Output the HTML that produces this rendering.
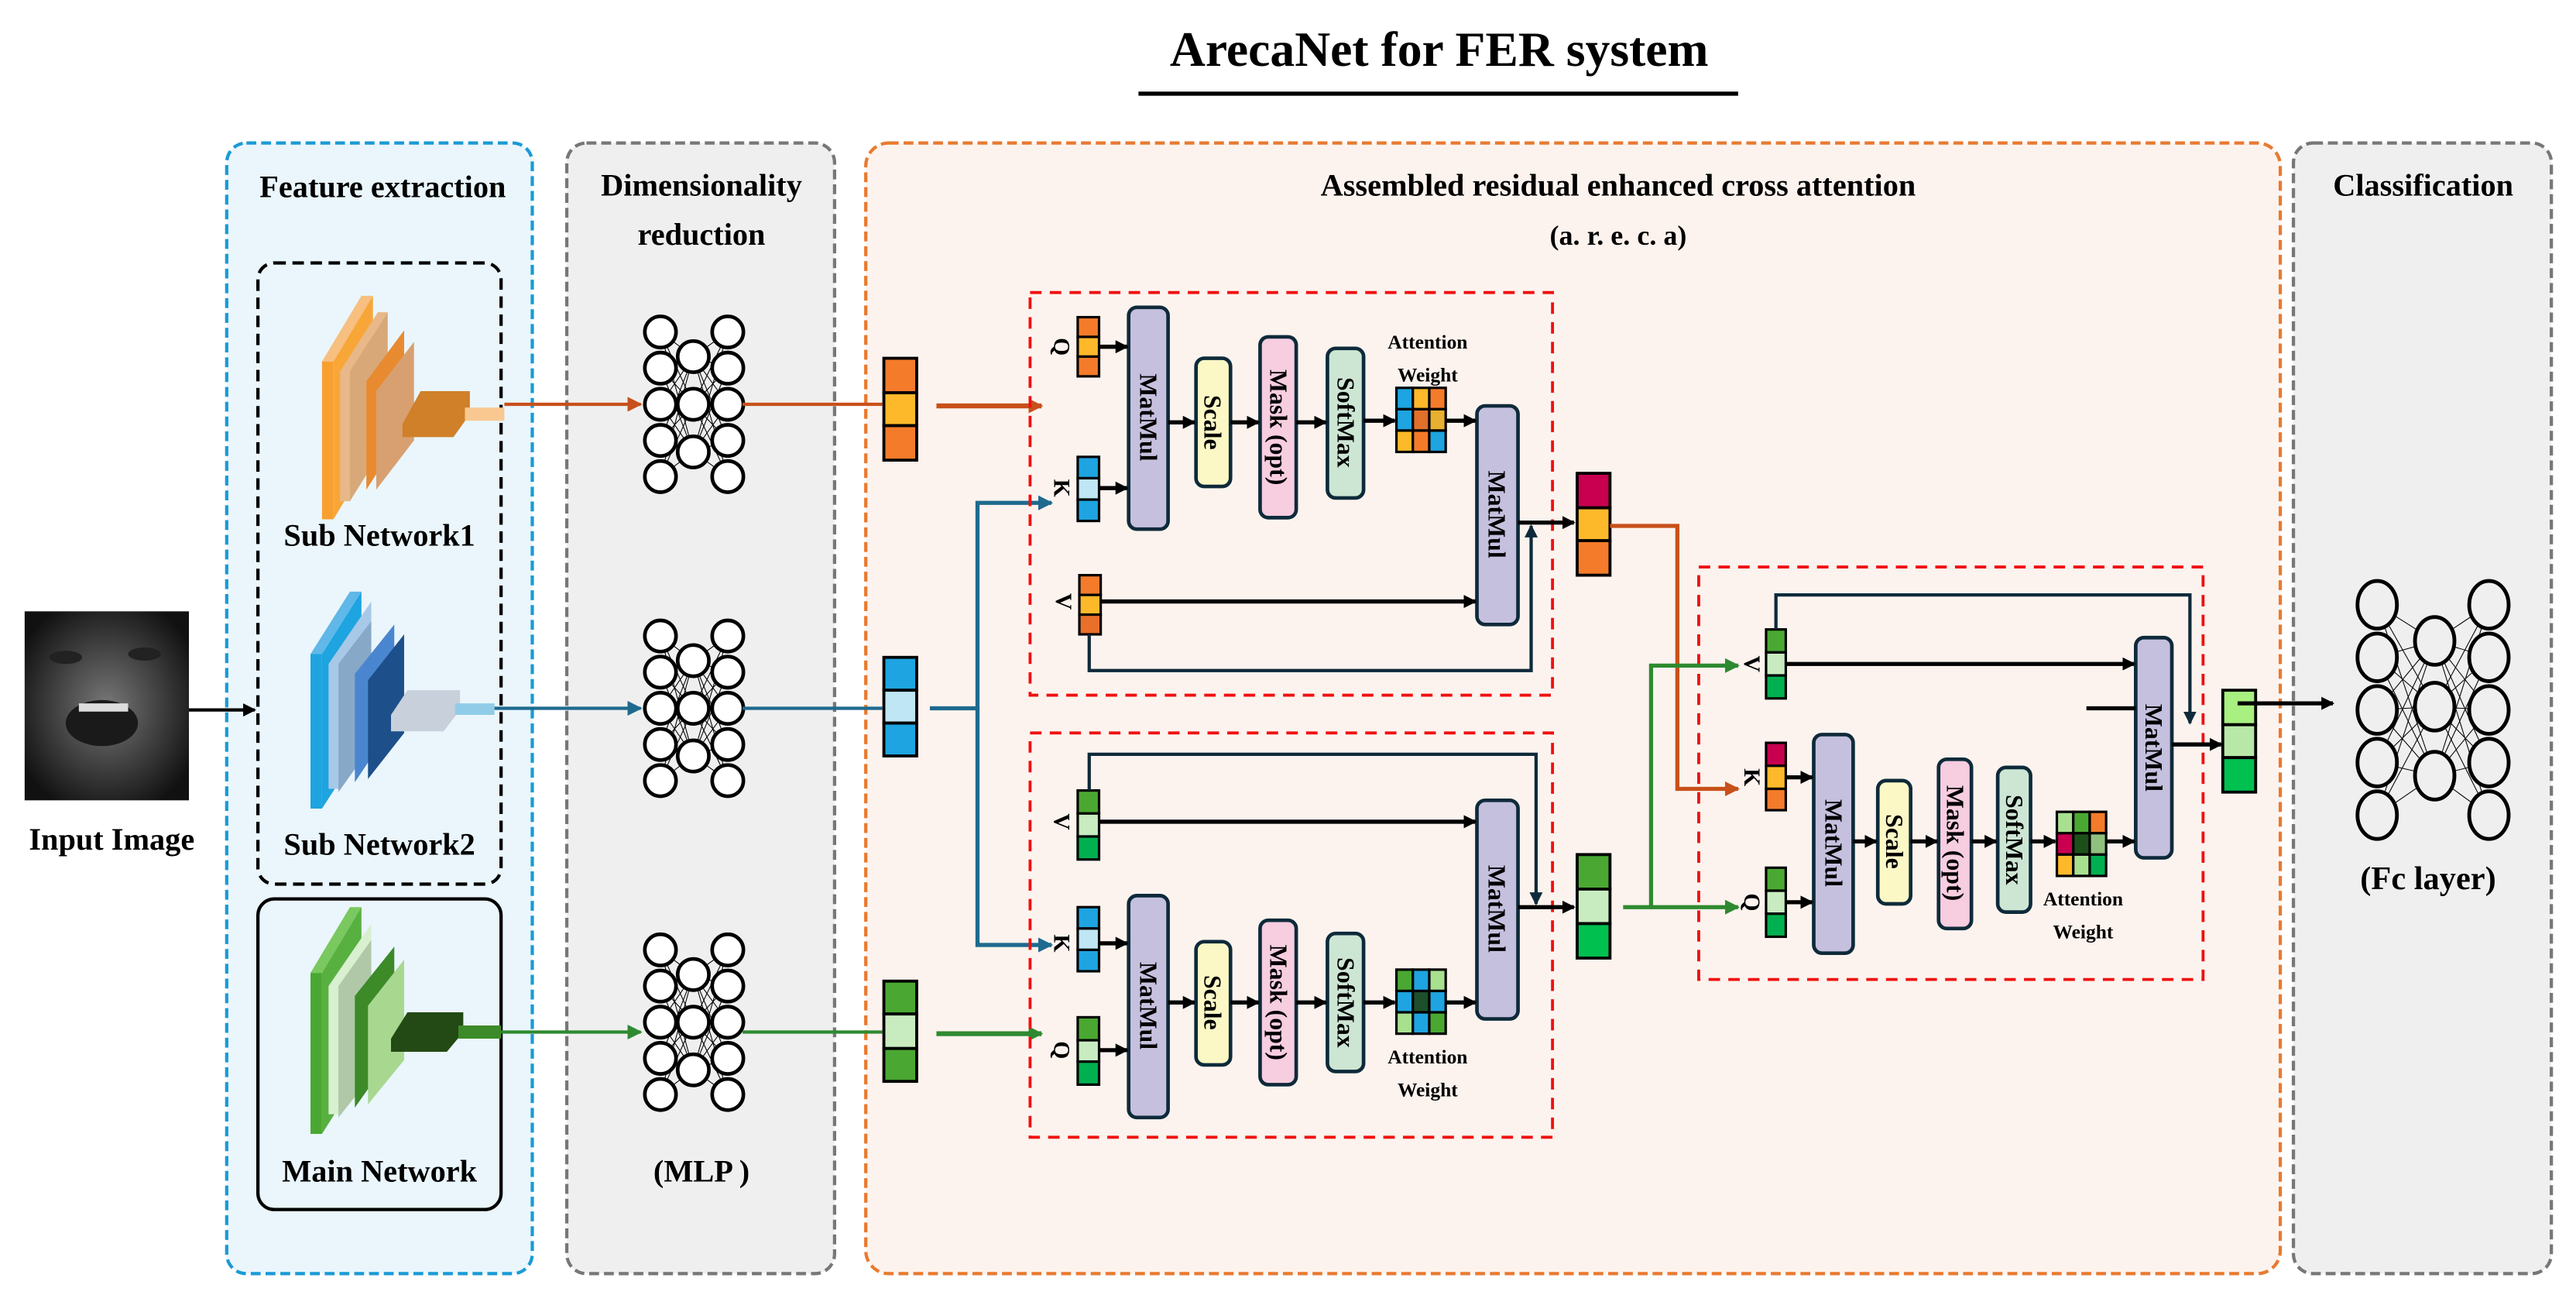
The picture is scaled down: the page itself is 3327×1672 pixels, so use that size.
<!DOCTYPE html>
<html><head><meta charset="utf-8"><style>
html,body{margin:0;padding:0;background:#fff}
svg{display:block}
text{font-family:"Liberation Serif",serif;font-weight:bold;fill:#000}
</style></head><body>
<svg width="3327" height="1672" viewBox="0 0 1568 788" preserveAspectRatio="none" xmlns="http://www.w3.org/2000/svg">
<defs>
<marker id="ak" markerWidth="8" markerHeight="8" refX="7" refY="4" orient="auto" markerUnits="userSpaceOnUse"><path d="M0,0L8,4L0,8z" fill="#000"/></marker>
<marker id="ao" markerWidth="9" markerHeight="9" refX="8" refY="4.5" orient="auto" markerUnits="userSpaceOnUse"><path d="M0,0L9,4.5L0,9z" fill="#c8501a"/></marker>
<marker id="ab" markerWidth="9" markerHeight="9" refX="8" refY="4.5" orient="auto" markerUnits="userSpaceOnUse"><path d="M0,0L9,4.5L0,9z" fill="#1e6a8e"/></marker>
<marker id="ag" markerWidth="9" markerHeight="9" refX="8" refY="4.5" orient="auto" markerUnits="userSpaceOnUse"><path d="M0,0L9,4.5L0,9z" fill="#2e8a30"/></marker>
<marker id="ad" markerWidth="8" markerHeight="8" refX="7" refY="4" orient="auto" markerUnits="userSpaceOnUse"><path d="M0,0L8,4L0,8z" fill="#0e2a3a"/></marker>
<radialGradient id="face" cx="50%" cy="50%" r="60%"><stop offset="0" stop-color="#777"/><stop offset="0.6" stop-color="#3a3a3a"/><stop offset="1" stop-color="#111"/></radialGradient>
</defs>

<!-- title -->
<text x="876" y="40" font-size="30" text-anchor="middle">ArecaNet for FER system</text>
<line x1="693" y1="57" x2="1058" y2="57" stroke="#000" stroke-width="2.5"/>

<!-- panels -->
<rect x="138" y="87" width="186" height="688" rx="12" fill="#eaf6fc" stroke="#1a9ad6" stroke-width="2" stroke-dasharray="6,3"/>
<rect x="345" y="87" width="163" height="688" rx="12" fill="#efefef" stroke="#777" stroke-width="2" stroke-dasharray="6,3"/>
<rect x="527" y="87" width="861" height="688" rx="14" fill="#fdf3ee" stroke="#e87a30" stroke-width="2" stroke-dasharray="6,3"/>
<rect x="1396" y="87" width="157" height="688" rx="12" fill="#efefef" stroke="#777" stroke-width="2" stroke-dasharray="6,3"/>

<text x="233" y="120" font-size="19" text-anchor="middle">Feature extraction</text>
<text x="427" y="119" font-size="19" text-anchor="middle">Dimensionality</text>
<text x="427" y="149" font-size="19" text-anchor="middle">reduction</text>
<text x="985" y="119" font-size="19" text-anchor="middle">Assembled residual enhanced cross attention</text>
<text x="985" y="149" font-size="17" text-anchor="middle">(a. r. e. c. a)</text>
<text x="1475" y="119" font-size="19" text-anchor="middle">Classification</text>

<!-- sub boxes -->
<rect x="157" y="160" width="148" height="378" rx="10" fill="none" stroke="#000" stroke-width="2" stroke-dasharray="7,4"/>
<rect x="157" y="547" width="148" height="189" rx="10" fill="none" stroke="#000" stroke-width="2"/>

<!-- input image -->
<rect x="15" y="372" width="100" height="115" fill="url(#face)"/>
<ellipse cx="62" cy="440" rx="22" ry="14" fill="#1a1a1a"/>
<rect x="48" y="428" width="30" height="5" fill="#ddd"/>
<ellipse cx="40" cy="400" rx="10" ry="4" fill="#222"/><ellipse cx="88" cy="398" rx="10" ry="4" fill="#222"/>
<text x="68" y="517" font-size="19" text-anchor="middle">Input Image</text>
<line x1="115" y1="432" x2="155" y2="432" stroke="#000" stroke-width="2" marker-end="url(#ak)"/>

<!-- CNN icons -->
<g id="cnn1">
<polygon points="196,220 203,220 227,180 220,180" fill="#f7c080"/><polygon points="196,220 203,220 203,316 196,316" fill="#f7a030"/><polygon points="203,220 227,180 227,276 203,316" fill="#f9a638"/>
<polygon points="207,226 230,190 236,190 213,226 213,305 207,305" fill="#e8b888"/><polygon points="213,226 236,190 236,268 213,305" fill="#d8a878"/>
<polygon points="223,232 246,201 246,262 223,298" fill="#e88a30"/><polygon points="229,238 252,208 252,268 229,298" fill="#d8a070"/>
<polygon points="245,258 256,238 286,238 286,252 276,266 245,266" fill="#d08028"/>
<rect x="283" y="248" width="24" height="8" fill="#f8c890"/>
<text x="231" y="332" font-size="19" text-anchor="middle">Sub Network1</text>
</g>
<g>
<polygon points="189,398 196,398 220,360 213,360" fill="#60b8e8"/><polygon points="189,398 196,398 196,492 189,492" fill="#1ea4e0"/><polygon points="196,398 220,360 220,455 196,492" fill="#1ea4e0"/>
<polygon points="200,404 226,366 226,450 206,480 200,480" fill="#a8c8e8"/><polygon points="206,404 226,378 226,454 206,482" fill="#88a8c8"/>
<polygon points="216,410 240,380 240,440 216,476" fill="#4a86d0"/><polygon points="224,414 246,386 246,446 224,474" fill="#1d4f8a"/>
<polygon points="238,435 248,420 280,420 280,432 270,445 238,445" fill="#c8d0dc"/>
<rect x="277" y="428" width="24" height="7" fill="#90cce8"/>
<text x="231" y="520" font-size="19" text-anchor="middle">Sub Network2</text>
</g>
<g>
<polygon points="189,592 196,592 220,552 213,552" fill="#7ac860"/><polygon points="189,592 196,592 196,690 189,690" fill="#4aa832"/><polygon points="196,592 220,552 220,652 196,690" fill="#58b040"/>
<polygon points="200,600 226,562 226,650 206,678 200,678" fill="#d8f0d0"/><polygon points="206,600 226,572 226,655 206,680" fill="#b0c8a8"/>
<polygon points="216,606 240,576 240,640 216,674" fill="#3c8a28"/><polygon points="224,612 246,584 246,645 224,672" fill="#a8d890"/>
<polygon points="238,632 248,616 282,616 282,628 272,640 238,640" fill="#234a14"/>
<rect x="279" y="624" width="26" height="8" fill="#3c8a28"/>
<text x="231" y="719" font-size="19" text-anchor="middle">Main Network</text>
</g>

<!-- MLPs -->
<g id="mlp" stroke="#000" fill="none">
<g stroke-width="0.5">
<path d="M402,202L422,217M402,202L422,246M402,202L422,275M402,224L422,217M402,224L422,246M402,224L422,275M402,246L422,217M402,246L422,246M402,246L422,275M402,268L422,217M402,268L422,246M402,268L422,275M402,290L422,217M402,290L422,246M402,290L422,275"/>
<path d="M443,202L422,217M443,202L422,246M443,202L422,275M443,224L422,217M443,224L422,246M443,224L422,275M443,246L422,217M443,246L422,246M443,246L422,275M443,268L422,217M443,268L422,246M443,268L422,275M443,290L422,217M443,290L422,246M443,290L422,275"/>
</g>
<g stroke-width="2.2" fill="#fff">
<circle cx="402" cy="202" r="9.5"/><circle cx="402" cy="224" r="9.5"/><circle cx="402" cy="246" r="9.5"/><circle cx="402" cy="268" r="9.5"/><circle cx="402" cy="290" r="9.5"/>
<circle cx="422" cy="217" r="9.5"/><circle cx="422" cy="246" r="9.5"/><circle cx="422" cy="275" r="9.5"/>
<circle cx="443" cy="202" r="9.5"/><circle cx="443" cy="224" r="9.5"/><circle cx="443" cy="246" r="9.5"/><circle cx="443" cy="268" r="9.5"/><circle cx="443" cy="290" r="9.5"/>
</g>
</g>
<use href="#mlp" y="185"/>
<use href="#mlp" y="376"/>
<text x="427" y="719" font-size="19" text-anchor="middle">(MLP )</text>

<!-- connectors feature->mlp->vectors -->
<line x1="307" y1="246" x2="390" y2="246" stroke="#c8501a" stroke-width="2" marker-end="url(#ao)"/>
<line x1="452" y1="246" x2="537" y2="246" stroke="#c8501a" stroke-width="2"/>
<line x1="301" y1="431" x2="390" y2="431" stroke="#1e6a8e" stroke-width="2" marker-end="url(#ab)"/>
<line x1="452" y1="431" x2="537" y2="431" stroke="#1e6a8e" stroke-width="2"/>
<line x1="305" y1="628" x2="390" y2="628" stroke="#2e8a30" stroke-width="2" marker-end="url(#ag)"/>
<line x1="452" y1="628" x2="537" y2="628" stroke="#2e8a30" stroke-width="2"/>

<!-- main vectors -->
<g stroke="#000" stroke-width="1.8">
<rect x="538" y="218" width="20" height="21" fill="#f47b2a"/><rect x="538" y="239" width="20" height="20" fill="#fdb92a"/><rect x="538" y="259" width="20" height="21" fill="#f47b2a"/>
<rect x="538" y="400" width="20" height="20" fill="#1ea4e0"/><rect x="538" y="420" width="20" height="20" fill="#bfe6f4"/><rect x="538" y="440" width="20" height="20" fill="#1ea4e0"/>
<rect x="538" y="597" width="20" height="20" fill="#4aa832"/><rect x="538" y="617" width="20" height="21" fill="#c8ecc0"/><rect x="538" y="638" width="20" height="20" fill="#4aa832"/>
</g>
<line x1="570" y1="247" x2="634" y2="247" stroke="#c8501a" stroke-width="3" marker-end="url(#ao)"/>
<polyline points="566,431 595,431 595,306 640,306" fill="none" stroke="#1e6a8e" stroke-width="2.5" marker-end="url(#ab)"/>
<polyline points="595,431 595,575 640,575" fill="none" stroke="#1e6a8e" stroke-width="2.5" marker-end="url(#ab)"/>
<line x1="570" y1="629" x2="634" y2="629" stroke="#2e8a30" stroke-width="3" marker-end="url(#ag)"/>

<!-- red boxes -->
<rect x="627" y="178" width="318" height="245" fill="none" stroke="#f01010" stroke-width="1.8" stroke-dasharray="7,5"/>
<rect x="627" y="446" width="318" height="246" fill="none" stroke="#f01010" stroke-width="1.8" stroke-dasharray="7,5"/>
<rect x="1034" y="345" width="307" height="251" fill="none" stroke="#f01010" stroke-width="1.8" stroke-dasharray="7,5"/>

<!-- ===== top block ===== -->
<g stroke="#000" stroke-width="1.5">
<rect x="656" y="193" width="13" height="12" fill="#f47b2a"/><rect x="656" y="205" width="13" height="12" fill="#fdb92a"/><rect x="656" y="217" width="13" height="12" fill="#f47b2a"/>
<rect x="656" y="278" width="13" height="13" fill="#1ea4e0"/><rect x="656" y="291" width="13" height="13" fill="#bfe6f4"/><rect x="656" y="304" width="13" height="13" fill="#1ea4e0"/>
<rect x="657" y="350" width="13" height="12" fill="#f47b2a"/><rect x="657" y="362" width="13" height="12" fill="#fdb92a"/><rect x="657" y="374" width="13" height="12" fill="#e8702a"/>
</g>
<text transform="translate(646,211) rotate(90)" font-size="14" text-anchor="middle" dominant-baseline="central">Q</text>
<text transform="translate(646,297) rotate(90)" font-size="14" text-anchor="middle" dominant-baseline="central">K</text>
<text transform="translate(647,366) rotate(90)" font-size="14" text-anchor="middle" dominant-baseline="central">V</text>
<g stroke="#0e2a3a" stroke-width="2.2">
<rect x="687" y="187" width="24" height="135" rx="5" fill="#c5c0de"/>
<rect x="728" y="218" width="21" height="78" rx="5" fill="#fbf8c5"/>
<rect x="767" y="205" width="22" height="110" rx="5" fill="#f7cde0"/>
<rect x="808" y="212" width="22" height="91" rx="5" fill="#cde6d4"/>
<rect x="899" y="247" width="25" height="133" rx="5" fill="#c5c0de"/>
</g>
<text transform="translate(699,254) rotate(90)" font-size="15" text-anchor="middle" dominant-baseline="central">MatMul</text>
<text transform="translate(738,257) rotate(90)" font-size="15" text-anchor="middle" dominant-baseline="central">Scale</text>
<text transform="translate(778,260) rotate(90)" font-size="15" text-anchor="middle" dominant-baseline="central">Mask (opt)</text>
<text transform="translate(819,257) rotate(90)" font-size="15" text-anchor="middle" dominant-baseline="central">SoftMax</text>
<text transform="translate(911,313) rotate(90)" font-size="15" text-anchor="middle" dominant-baseline="central">MatMul</text>
<text x="869" y="212" font-size="12" text-anchor="middle">Attention</text>
<text x="869" y="232" font-size="12" text-anchor="middle">Weight</text>
<g stroke="#000" stroke-width="1.5">
<rect x="850" y="236" width="10" height="13" fill="#1ea4e0"/><rect x="860" y="236" width="10" height="13" fill="#fdb92a"/><rect x="870" y="236" width="10" height="13" fill="#f47b2a"/>
<rect x="850" y="249" width="10" height="13" fill="#1ea4e0"/><rect x="860" y="249" width="10" height="13" fill="#e0702a"/><rect x="870" y="249" width="10" height="13" fill="#e8b030"/>
<rect x="850" y="262" width="10" height="13" fill="#fdb92a"/><rect x="860" y="262" width="10" height="13" fill="#f47b2a"/><rect x="870" y="262" width="10" height="13" fill="#1ea4e0"/>
</g>
<g stroke="#000" stroke-width="2.5" fill="none">
<line x1="669" y1="211" x2="686" y2="211" marker-end="url(#ak)"/>
<line x1="669" y1="297" x2="686" y2="297" marker-end="url(#ak)"/>
<line x1="711" y1="257" x2="727" y2="257" marker-end="url(#ak)"/>
<line x1="749" y1="257" x2="766" y2="257" marker-end="url(#ak)"/>
<line x1="789" y1="257" x2="807" y2="257" marker-end="url(#ak)"/>
<line x1="830" y1="256" x2="849" y2="256" marker-end="url(#ak)"/>
<line x1="880" y1="256" x2="898" y2="256" marker-end="url(#ak)"/>
<line x1="670" y1="366" x2="898" y2="366" marker-end="url(#ak)"/>
<line x1="924" y1="318" x2="958" y2="318" marker-end="url(#ak)"/>
</g>
<polyline points="663,386 663,408 932,408 932,320" fill="none" stroke="#0e2a3a" stroke-width="2" marker-end="url(#ad)"/>
<g stroke="#000" stroke-width="1.8">
<rect x="960" y="288" width="20" height="21" fill="#c8004f"/><rect x="960" y="309" width="20" height="20" fill="#fdb92a"/><rect x="960" y="329" width="20" height="21" fill="#f47b2a"/>
</g>

<!-- ===== bottom block ===== -->
<g stroke="#000" stroke-width="1.5">
<rect x="656" y="481" width="13" height="14" fill="#4aa832"/><rect x="656" y="495" width="13" height="14" fill="#c8ecc0"/><rect x="656" y="509" width="13" height="14" fill="#00b050"/>
<rect x="656" y="552" width="13" height="13" fill="#1ea4e0"/><rect x="656" y="565" width="13" height="13" fill="#bfe6f4"/><rect x="656" y="578" width="13" height="13" fill="#1ea4e0"/>
<rect x="656" y="619" width="13" height="14" fill="#4aa832"/><rect x="656" y="633" width="13" height="13" fill="#c8ecc0"/><rect x="656" y="646" width="13" height="14" fill="#00b050"/>
</g>
<text transform="translate(646,500) rotate(90)" font-size="14" text-anchor="middle" dominant-baseline="central">V</text>
<text transform="translate(646,574) rotate(90)" font-size="14" text-anchor="middle" dominant-baseline="central">K</text>
<text transform="translate(646,639) rotate(90)" font-size="14" text-anchor="middle" dominant-baseline="central">Q</text>
<g stroke="#0e2a3a" stroke-width="2.2">
<rect x="687" y="545" width="24" height="135" rx="5" fill="#c5c0de"/>
<rect x="728" y="573" width="21" height="75" rx="5" fill="#fbf8c5"/>
<rect x="767" y="560" width="22" height="100" rx="5" fill="#f7cde0"/>
<rect x="808" y="568" width="22" height="84" rx="5" fill="#cde6d4"/>
<rect x="899" y="487" width="25" height="133" rx="5" fill="#c5c0de"/>
</g>
<text transform="translate(699,612) rotate(90)" font-size="15" text-anchor="middle" dominant-baseline="central">MatMul</text>
<text transform="translate(738,610) rotate(90)" font-size="15" text-anchor="middle" dominant-baseline="central">Scale</text>
<text transform="translate(778,610) rotate(90)" font-size="15" text-anchor="middle" dominant-baseline="central">Mask (opt)</text>
<text transform="translate(819,610) rotate(90)" font-size="15" text-anchor="middle" dominant-baseline="central">SoftMax</text>
<text transform="translate(911,553) rotate(90)" font-size="15" text-anchor="middle" dominant-baseline="central">MatMul</text>
<text x="869" y="647" font-size="12" text-anchor="middle">Attention</text>
<text x="869" y="667" font-size="12" text-anchor="middle">Weight</text>
<g stroke="#000" stroke-width="1.5">
<rect x="850" y="590" width="10" height="13" fill="#4aa832"/><rect x="860" y="590" width="10" height="13" fill="#1ea4e0"/><rect x="870" y="590" width="10" height="13" fill="#a8e090"/>
<rect x="850" y="603" width="10" height="13" fill="#1ea4e0"/><rect x="860" y="603" width="10" height="13" fill="#1d4f2a"/><rect x="870" y="603" width="10" height="13" fill="#1ea4e0"/>
<rect x="850" y="616" width="10" height="13" fill="#a8e090"/><rect x="860" y="616" width="10" height="13" fill="#1ea4e0"/><rect x="870" y="616" width="10" height="13" fill="#4aa832"/>
</g>
<g stroke="#000" stroke-width="2.5" fill="none">
<line x1="669" y1="500" x2="898" y2="500" marker-end="url(#ak)"/>
<line x1="669" y1="574" x2="686" y2="574" marker-end="url(#ak)"/>
<line x1="669" y1="639" x2="686" y2="639" marker-end="url(#ak)"/>
<line x1="711" y1="610" x2="727" y2="610" marker-end="url(#ak)"/>
<line x1="749" y1="610" x2="766" y2="610" marker-end="url(#ak)"/>
<line x1="789" y1="610" x2="807" y2="610" marker-end="url(#ak)"/>
<line x1="830" y1="610" x2="849" y2="610" marker-end="url(#ak)"/>
<line x1="880" y1="610" x2="898" y2="610" marker-end="url(#ak)"/>
<line x1="924" y1="552" x2="958" y2="552" marker-end="url(#ak)"/>
</g>
<polyline points="663,481 663,459 935,459 935,550" fill="none" stroke="#0e2a3a" stroke-width="2" marker-end="url(#ad)"/>
<g stroke="#000" stroke-width="1.8">
<rect x="960" y="520" width="20" height="21" fill="#4aa832"/><rect x="960" y="541" width="20" height="21" fill="#c8ecc0"/><rect x="960" y="562" width="20" height="21" fill="#00c050"/>
</g>

<!-- cross connectors -->
<polyline points="980,320 1021,320 1021,480 1058,480" fill="none" stroke="#c8501a" stroke-width="2.5" marker-end="url(#ao)"/>
<polyline points="988,552 1005,552 1005,405 1058,405" fill="none" stroke="#2e8a30" stroke-width="2.5" marker-end="url(#ag)"/>
<polyline points="1005,552 1058,552" fill="none" stroke="#2e8a30" stroke-width="2.5" marker-end="url(#ag)"/>

<!-- ===== third block ===== -->
<g stroke="#000" stroke-width="1.5">
<rect x="1075" y="383" width="12" height="14" fill="#4aa832"/><rect x="1075" y="397" width="12" height="14" fill="#c8ecc0"/><rect x="1075" y="411" width="12" height="14" fill="#00b050"/>
<rect x="1075" y="452" width="12" height="14" fill="#c8004f"/><rect x="1075" y="466" width="12" height="14" fill="#fdb92a"/><rect x="1075" y="480" width="12" height="13" fill="#f47b2a"/>
<rect x="1075" y="528" width="12" height="14" fill="#4aa832"/><rect x="1075" y="542" width="12" height="14" fill="#c8ecc0"/><rect x="1075" y="556" width="12" height="14" fill="#00b050"/>
</g>
<text transform="translate(1066,404) rotate(90)" font-size="14" text-anchor="middle" dominant-baseline="central">V</text>
<text transform="translate(1066,473) rotate(90)" font-size="14" text-anchor="middle" dominant-baseline="central">K</text>
<text transform="translate(1066,549) rotate(90)" font-size="14" text-anchor="middle" dominant-baseline="central">Q</text>
<g stroke="#0e2a3a" stroke-width="2.2">
<rect x="1104" y="447" width="24" height="133" rx="5" fill="#c5c0de"/>
<rect x="1143" y="475" width="20" height="75" rx="5" fill="#fbf8c5"/>
<rect x="1180" y="462" width="20" height="103" rx="5" fill="#f7cde0"/>
<rect x="1216" y="467" width="20" height="88" rx="5" fill="#cde6d4"/>
<rect x="1300" y="388" width="22" height="134" rx="5" fill="#c5c0de"/>
</g>
<text transform="translate(1116,513) rotate(90)" font-size="15" text-anchor="middle" dominant-baseline="central">MatMul</text>
<text transform="translate(1153,512) rotate(90)" font-size="15" text-anchor="middle" dominant-baseline="central">Scale</text>
<text transform="translate(1190,513) rotate(90)" font-size="15" text-anchor="middle" dominant-baseline="central">Mask (opt)</text>
<text transform="translate(1226,511) rotate(90)" font-size="15" text-anchor="middle" dominant-baseline="central">SoftMax</text>
<text transform="translate(1311,455) rotate(90)" font-size="15" text-anchor="middle" dominant-baseline="central">MatMul</text>
<text x="1268" y="551" font-size="12" text-anchor="middle">Attention</text>
<text x="1268" y="571" font-size="12" text-anchor="middle">Weight</text>
<g stroke="#000" stroke-width="1.5">
<rect x="1252" y="494" width="10" height="13" fill="#a8e090"/><rect x="1262" y="494" width="10" height="13" fill="#4aa832"/><rect x="1272" y="494" width="10" height="13" fill="#f47b2a"/>
<rect x="1252" y="507" width="10" height="13" fill="#c8004f"/><rect x="1262" y="507" width="10" height="13" fill="#1d4f1a"/><rect x="1272" y="507" width="10" height="13" fill="#90c080"/>
<rect x="1252" y="520" width="10" height="13" fill="#fdb92a"/><rect x="1262" y="520" width="10" height="13" fill="#a8e090"/><rect x="1272" y="520" width="10" height="13" fill="#00b050"/>
</g>
<g stroke="#000" stroke-width="2.5" fill="none">
<line x1="1087" y1="404" x2="1299" y2="404" marker-end="url(#ak)"/>
<line x1="1087" y1="473" x2="1103" y2="473" marker-end="url(#ak)"/>
<line x1="1087" y1="549" x2="1103" y2="549" marker-end="url(#ak)"/>
<line x1="1128" y1="512" x2="1142" y2="512" marker-end="url(#ak)"/>
<line x1="1163" y1="512" x2="1179" y2="512" marker-end="url(#ak)"/>
<line x1="1200" y1="512" x2="1215" y2="512" marker-end="url(#ak)"/>
<line x1="1236" y1="512" x2="1251" y2="512" marker-end="url(#ak)"/>
<line x1="1282" y1="512" x2="1299" y2="512" marker-end="url(#ak)"/>
<line x1="1270" y1="431" x2="1300" y2="431"/>
<line x1="1322" y1="453" x2="1352" y2="453" marker-end="url(#ak)"/>
</g>
<polyline points="1081,383 1081,362 1333,362 1333,440" fill="none" stroke="#0e2a3a" stroke-width="2" marker-end="url(#ad)"/>
<g stroke="#000" stroke-width="1.8">
<rect x="1353" y="420" width="20" height="21" fill="#a8f080"/><rect x="1353" y="441" width="20" height="20" fill="#b8e8a8"/><rect x="1353" y="461" width="20" height="21" fill="#00c050"/>
</g>
<line x1="1362" y1="428" x2="1420" y2="428" stroke="#000" stroke-width="2.5" marker-end="url(#ak)"/>

<!-- FC layer -->
<g stroke="#000" fill="none">
<g stroke-width="0.5">
<path d="M1447,368L1482,390M1447,368L1482,430M1447,368L1482,472M1447,400L1482,390M1447,400L1482,430M1447,400L1482,472M1447,432L1482,390M1447,432L1482,430M1447,432L1482,472M1447,464L1482,390M1447,464L1482,430M1447,464L1482,472M1447,496L1482,390M1447,496L1482,430M1447,496L1482,472"/>
<path d="M1515,368L1482,390M1515,368L1482,430M1515,368L1482,472M1515,400L1482,390M1515,400L1482,430M1515,400L1482,472M1515,432L1482,390M1515,432L1482,430M1515,432L1482,472M1515,464L1482,390M1515,464L1482,430M1515,464L1482,472M1515,496L1482,390M1515,496L1482,430M1515,496L1482,472"/>
</g>
<g stroke-width="2.3" fill="#efefef">
<ellipse cx="1447" cy="368" rx="12" ry="14.5"/><ellipse cx="1447" cy="400" rx="12" ry="14.5"/><ellipse cx="1447" cy="432" rx="12" ry="14.5"/><ellipse cx="1447" cy="464" rx="12" ry="14.5"/><ellipse cx="1447" cy="496" rx="12" ry="14.5"/>
<ellipse cx="1482" cy="390" rx="12" ry="14.5"/><ellipse cx="1482" cy="430" rx="12" ry="14.5"/><ellipse cx="1482" cy="472" rx="12" ry="14.5"/>
<ellipse cx="1515" cy="368" rx="12" ry="14.5"/><ellipse cx="1515" cy="400" rx="12" ry="14.5"/><ellipse cx="1515" cy="432" rx="12" ry="14.5"/><ellipse cx="1515" cy="464" rx="12" ry="14.5"/><ellipse cx="1515" cy="496" rx="12" ry="14.5"/>
</g>
</g>
<text x="1478" y="541" font-size="20" text-anchor="middle">(Fc layer)</text>
</svg>
</body></html>
